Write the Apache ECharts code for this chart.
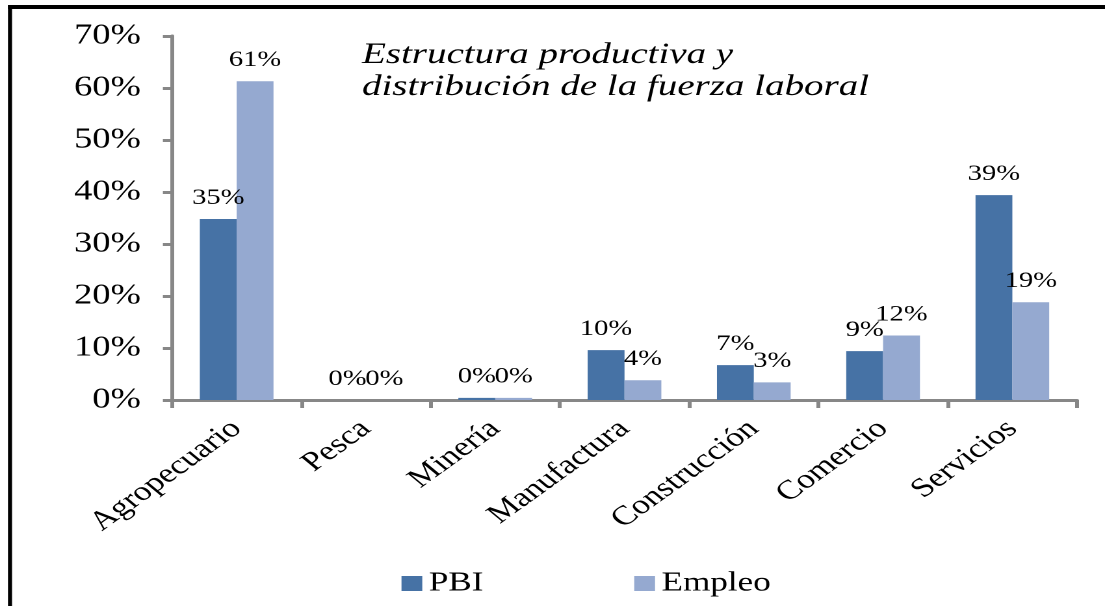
<!DOCTYPE html>
<html>
<head>
<meta charset="utf-8">
<script src="https://cdn.jsdelivr.net/npm/echarts@6/dist/echarts.min.js"></script>
<style>
html,body{margin:0;padding:0;background:#fff;overflow:hidden;width:1105px;height:606px;}
#chart{width:850px;height:606px;transform:scaleX(1.3);transform-origin:0 0;}
</style>
</head>
<body>
<div id="chart"></div>
<script>
const categories = ['Agropecuario','Pesca','Minería','Manufactura','Construcción','Comercio','Servicios'];
const pbi = [34.8, 0, 0.4, 9.6, 6.7, 9.4, 39.4];
const empleo = [61.3, 0, 0.4, 3.8, 3.4, 12.4, 18.8];
const seriesNames = ['PBI','Empleo'];
const titleLines = ['Estructura productiva y','distribución de la fuerza laboral'];

// the reference image is horizontally stretched; the chart is drawn narrower and stretched by CSS
const S = 1.3;
const X = v => v / S;

const serif = '"Liberation Serif", "Times New Roman", serif';
const chart = echarts.init(document.getElementById('chart'), null, {devicePixelRatio: 2});
const lbl = {
  show: true, position: 'top', distance: 10,
  fontFamily: serif, fontSize: 22, color: '#000',
  formatter: p => Math.round(p.value) + '%'
};
chart.setOption({
  animation: false,
  backgroundColor: '#fff',
  graphic: [
    {type:'line', shape:{x1: X(8), y1: 7, x2: 900, y2: 7}, style:{stroke:'#000', lineWidth:4}, silent:true},
    {type:'line', shape:{x1: X(10), y1: 5, x2: X(10), y2: 700}, style:{stroke:'#000', lineWidth:3.1}, silent:true},
    {type:'text', left: X(362), top: 39,
     style:{text: titleLines.join('\n'), font: 'italic 30px ' + serif, fill:'#000', lineHeight: 32}}
  ],
  grid: {left: X(172), right: X(28), top: 36, bottom: 206},
  legend: {
    data: seriesNames, left: X(395), top: 565, itemGap: 116,
    itemWidth: 16, itemHeight: 15, icon: 'rect',
    textStyle: {fontFamily: serif, fontSize: 27, color: '#000'}
  },
  xAxis: {
    type: 'category', data: categories,
    axisLine: {lineStyle: {color: '#878787', width: 3}},
    axisTick: {show: true, length: 8, lineStyle: {color: '#878787', width: 3}},
    axisLabel: {rotate: 43, margin: 25, fontFamily: serif, fontSize: 27, color: '#000', interval: 0}
  },
  yAxis: {
    type: 'value', min: 0, max: 70, interval: 10,
    splitLine: {show: false},
    axisLine: {show: true, lineStyle: {color: '#878787', width: 3}},
    axisTick: {show: true, length: 7, lineStyle: {color: '#878787', width: 3}},
    axisLabel: {formatter: '{value}%', margin: 24, fontFamily: serif, fontSize: 28, color: '#000'}
  },
  series: [
    {name: seriesNames[0], type: 'bar', data: pbi, barGap: '0%', barCategoryGap: '43%',
     itemStyle: {color: '#4672A5'}, label: lbl},
    {name: seriesNames[1], type: 'bar', data: empleo,
     itemStyle: {color: '#95A9D0'}, label: lbl}
  ]
});
</script>
</body>
</html>
